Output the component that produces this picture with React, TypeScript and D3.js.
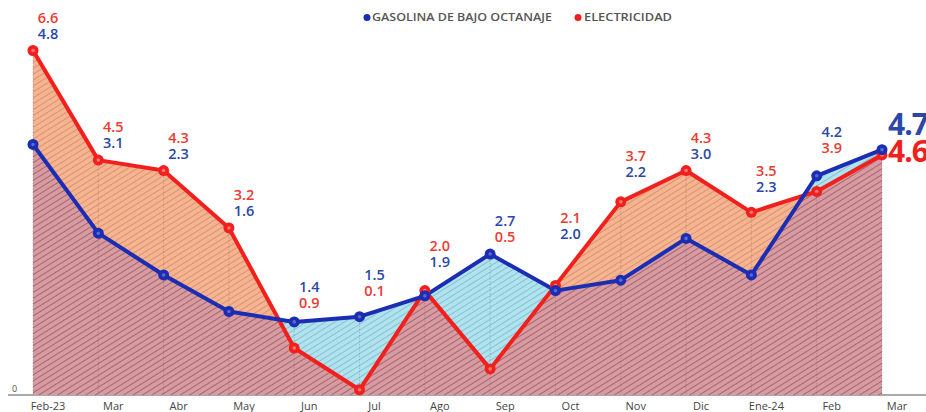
import * as d3 from 'd3';
import React from 'react';

const months = ['Feb-23', 'Mar', 'Abr', 'May', 'Jun', 'Jul', 'Ago', 'Sep', 'Oct', 'Nov', 'Dic', 'Ene-24', 'Feb', 'Mar'];
const gasolina = [4.8, 3.1, 2.3, 1.6, 1.4, 1.5, 1.9, 2.7, 2.0, 2.2, 3.0, 2.3, 4.2, 4.7];
const electricidad = [6.6, 4.5, 4.3, 3.2, 0.9, 0.1, 2.0, 0.5, 2.1, 3.7, 4.3, 3.5, 3.9, 4.6];
const legendItems = ['GASOLINA DE BAJO OCTANAJE', 'ELECTRICIDAD'];

const W = 926;
const H = 412;
const BLUE = '#1b2db3';
const RED = '#f2201d';
const BLUE_TXT = '#2b48a8';
const RED_TXT = '#ec3b33';
const FONT = '"Open Sans", "DejaVu Sans", sans-serif';
const LABEL_DX = 15;
const LABEL_HALF = 12;

const App = () => {
    const idx = months.map((_, i) => i);
    const x = d3.scalePoint<number>().domain(idx).range([33, 882]);
    const y = d3.scaleLinear().domain([0, 6.6]).range([395, 50.5]);

    const area = (vals: number[]) =>
        d3.area<number>().x(i => x(i)!).y0(y(0)).y1(i => y(vals[i]))(idx)!;
    const line = (vals: number[]) =>
        d3.line<number>().x(i => x(i)!).y(i => y(vals[i]))(idx)!;

    const last = idx.length - 1;
    const step = x.step();

    // highest point of either line under the label box, so labels sit clear of the lines
    const labelAnchor = (i: number) => {
        let top = Math.min(y(gasolina[i]), y(electricidad[i]));
        if (i < last) {
            const t = (LABEL_DX + LABEL_HALF) / step;
            [gasolina, electricidad].forEach(vals => {
                const v = vals[i] + (vals[i + 1] - vals[i]) * t;
                top = Math.min(top, y(v));
            });
        }
        return top;
    };

    return (
        <svg width={W} height={H} style={{ position: 'absolute', left: 0, top: 0, background: '#fff' }}>
            <defs>
                <pattern id="hatch" width="5" height="5" patternUnits="userSpaceOnUse" patternTransform="rotate(-32)">
                    <line x1="0" y1="0.5" x2="5" y2="0.5" stroke="#4a2030" strokeOpacity="0.22" strokeWidth="1" />
                </pattern>
                <clipPath id="blueClip">
                    <path d={area(gasolina)} />
                </clipPath>
            </defs>

            {/* baseline */}
            <line x1={8} x2={W} y1={y(0)} y2={y(0)} stroke="#555" strokeWidth={1.2} />
            <text x={12} y={y(0) - 3} fontFamily={FONT} fontSize={9} fill="#555">0</text>

            {/* fills: orange where electricity is above, cyan where gasoline is above, pink below both */}
            <path d={area(electricidad)} fill="#f8b48e" />
            <path d={area(gasolina)} fill="#ace5f1" />
            <path d={area(electricidad)} fill="#d99aa0" clipPath="url(#blueClip)" />
            <path d={area(electricidad)} fill="url(#hatch)" />
            <path d={area(gasolina)} fill="url(#hatch)" />

            {/* dotted verticals */}
            {idx.map(i => (
                <line key={'g' + i} x1={x(i)} x2={x(i)} y1={y(Math.max(gasolina[i], electricidad[i]))} y2={y(0)}
                    stroke="#6a4a55" strokeOpacity={0.35} strokeWidth={0.8} strokeDasharray="1.5,1.5" />
            ))}

            {/* lines */}
            <path d={line(electricidad)} fill="none" stroke={RED} strokeWidth={4} strokeLinejoin="round" />
            <path d={line(gasolina)} fill="none" stroke={BLUE} strokeWidth={4} strokeLinejoin="round" />
            {idx.map(i => (
                <g key={'m' + i}>
                    <circle cx={x(i)} cy={y(electricidad[i])} r={5.5} fill={RED} />
                    <circle cx={x(i)} cy={y(electricidad[i])} r={1.8} fill="#f77" />
                    <circle cx={x(i)} cy={y(gasolina[i])} r={5.5} fill={BLUE} />
                    <circle cx={x(i)} cy={y(gasolina[i])} r={1.8} fill="#5a6ad0" />
                </g>
            ))}

            {/* value labels */}
            {idx.filter(i => i !== last).map(i => {
                const top = labelAnchor(i);
                const redFirst = electricidad[i] >= gasolina[i];
                const first = redFirst ? { v: electricidad[i], c: RED_TXT } : { v: gasolina[i], c: BLUE_TXT };
                const second = redFirst ? { v: gasolina[i], c: BLUE_TXT } : { v: electricidad[i], c: RED_TXT };
                return (
                    <g key={'l' + i} fontFamily={FONT} fontSize={14.5} fontWeight={600} textAnchor="middle">
                        <text x={x(i)! + LABEL_DX} y={top - 28} fill={first.c}>{first.v.toFixed(1)}</text>
                        <text x={x(i)! + LABEL_DX} y={top - 12} fill={second.c}>{second.v.toFixed(1)}</text>
                    </g>
                );
            })}
            <g fontFamily={FONT} fontSize={30} fontWeight={700} letterSpacing={-1}>
                <text x={x(last)! + 6} y={y(gasolina[last]) - 15} fill={BLUE_TXT}>{gasolina[last].toFixed(1)}</text>
                <text x={x(last)! + 6} y={y(electricidad[last]) + 7} fill={RED}>{electricidad[last].toFixed(1)}</text>
            </g>

            {/* x labels */}
            {idx.map(i => (
                <text key={'x' + i} x={x(i)! + LABEL_DX} y={410} textAnchor="middle" fontFamily={FONT} fontSize={11} fill="#444">
                    {months[i]}
                </text>
            ))}

            {/* legend */}
            <g fontFamily={FONT} fontSize={10} fontWeight={600} fill="#555">
                <circle cx={367} cy={17.5} r={3.5} fill={BLUE} />
                <text x={372} y={21} textLength={180} lengthAdjust="spacingAndGlyphs">{legendItems[0]}</text>
                <circle cx={578} cy={17.5} r={3.5} fill={RED} />
                <text x={584} y={21} textLength={88} lengthAdjust="spacingAndGlyphs">{legendItems[1]}</text>
            </g>
        </svg>
    );
};

export default App;
